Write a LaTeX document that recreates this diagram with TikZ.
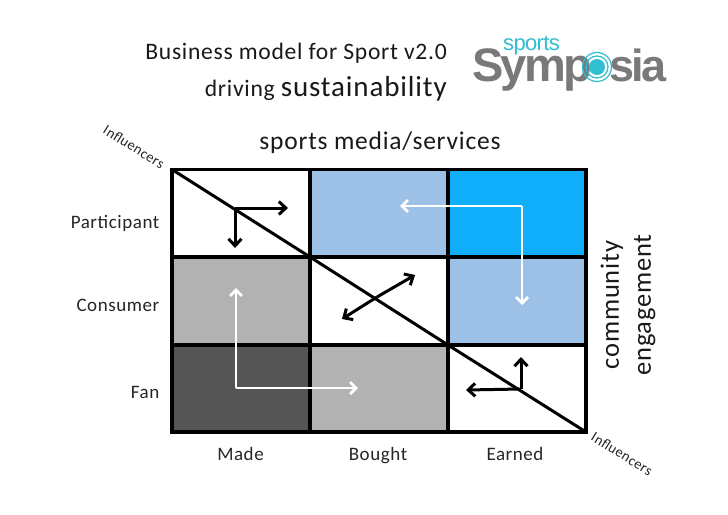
\documentclass[tikz,border=0pt]{standalone}
\usepackage{fontspec}
\setmainfont[LetterSpace=3]{Carlito}
\newfontfamily\logofont[LetterSpace=-6]{Liberation Sans}
\newfontfamily\logosmall[LetterSpace=-3]{Liberation Sans}
\usetikzlibrary{arrows.meta}
\definecolor{cellblue}{HTML}{9DC0E6}
\definecolor{cellcyan}{HTML}{10AEFB}
\definecolor{cellgray}{HTML}{B2B2B2}
\definecolor{celldark}{HTML}{555555}
\definecolor{logogray}{HTML}{77797B}
\definecolor{logoteal}{HTML}{2FBFD0}
\tikzset{
  x=1pt,y=-1pt,
  lab/.style={font=\fontsize{19}{22}\selectfont,text=black!85,inner sep=0pt},
  head/.style={font=\fontsize{25.5}{30}\selectfont,text=black!90,inner sep=0pt},
  infl/.style={font=\fontsize{14.5}{18}\selectfont,text=black!85,inner sep=0pt},
  cell/.style={draw=black,line width=3.6pt},
  blk/.style={draw=black,line width=3pt,-{Straight Barb[length=7pt,width=13pt,line width=3pt]}},
  wht/.style={draw=white,line width=2.8pt,-{Straight Barb[length=6pt,width=12pt,line width=2.8pt]}},
  diag/.style={draw=black,line width=3pt},
}
\begin{document}
\begin{tikzpicture}
\useasboundingbox[fill=white] (0,0) rectangle (728,514);
\coordinate (A) at (172,169.5); \coordinate (B) at (310,257); \coordinate (C) at (448,345); \coordinate (D) at (586,432);
\fill[white] (172,169.5) rectangle (310,257);
\fill[cellblue] (310,169.5) rectangle (448,257);
\fill[cellcyan] (448,169.5) rectangle (586,257);
\fill[cellgray] (172,257) rectangle (310,345);
\fill[cellblue] (448,257) rectangle (586,345);
\fill[celldark] (172,345) rectangle (310,432);
\fill[cellgray] (310,345) rectangle (448,432);
\draw[cell] (172,169.5) rectangle (586,432);
\draw[cell] (310,169.5) -- (310,432);
\draw[cell] (448,169.5) -- (448,432);
\draw[cell] (172,257) -- (586,257);
\draw[cell] (172,345) -- (586,345);
\draw[diag] (A) -- (B) -- (C) -- (D);
\coordinate (p1) at (235,208);
\coordinate (p1r) at (288,208);
\coordinate (p1d) at (235,248);
\draw[blk] (p1) -- (p1r);
\draw[blk] (p1) -- (p1d);
\coordinate (xc) at (377,297);
\coordinate (x1) at (415,275);
\coordinate (x2) at (342,319);
\draw[blk] (xc) -- (x1);
\draw[blk] (xc) -- (x2);
\coordinate (p3) at (521,389);
\coordinate (p3u) at (521,357);
\coordinate (p3l) at (466,390);
\draw[blk] (p3) -- (p3u);
\draw[blk] (p3) -- (p3l);
\coordinate (w1) at (522,206);
\coordinate (w1l) at (400,206);
\coordinate (w1d) at (522,305);
\draw[wht] (w1) -- (w1l);
\draw[wht] (w1) -- (w1d);
\coordinate (w2) at (236,388);
\coordinate (w2u) at (236,288);
\coordinate (w2r) at (358,388);
\draw[wht] (w2) -- (w2u);
\draw[wht] (w2) -- (w2r);
\node[lab,anchor=base east] (part) at (159.5,228) {Participant};
\node[lab,anchor=base east] (cons) at (159.5,311) {Consumer};
\node[lab,anchor=base east] (fan) at (159.5,398) {Fan};
\node[lab,anchor=base] (made) at (240.5,460) {Made};
\node[lab,anchor=base] (bought) at (378,460) {Bought};
\node[lab,anchor=base] (earned) at (515,460) {Earned};
\node[head,anchor=base] (media) at (380,149) {sports media/services};
\node[head,rotate=90,align=center,font=\fontsize{26.5}{32}\selectfont] (comm) at (628,305) {community\\engagement};
\node[infl,rotate=-32] (inf1) at (134,147) {Influencers};
\node[infl,rotate=-32] (inf2) at (622,454) {Influencers};
\node[anchor=base east,inner sep=0pt,text=black!90,font=\fontsize{23.6}{27}\selectfont] (t1) at (447,59) {Business model for Sport v2.0};
\node[anchor=base east,inner sep=0pt,text=black!90,font=\fontsize{23.6}{27}\selectfont] (t2) at (447,96) {driving {\fontsize{29}{32}\selectfont sustainability}};
\node[anchor=base west,inner sep=0pt,text=logogray,font=\logofont\bfseries\fontsize{47}{47}\selectfont] (symp) at (472,81) {Symp};
\node[anchor=base west,inner sep=0pt,text=logogray,font=\logofont\bfseries\fontsize{45}{45}\selectfont] (sia) at (609,81) {sia};
\node[anchor=base west,inner sep=0pt,text=logoteal,font=\logosmall\fontsize{22}{22}\selectfont] (spo) at (503,50) {sports};
\fill[logoteal] (597,67) circle (8);
\draw[logoteal,line width=1.2pt] (597,67) circle (11);
\draw[logoteal,line width=1.2pt] (597,67) circle (14.5);
\end{tikzpicture}
\end{document}
